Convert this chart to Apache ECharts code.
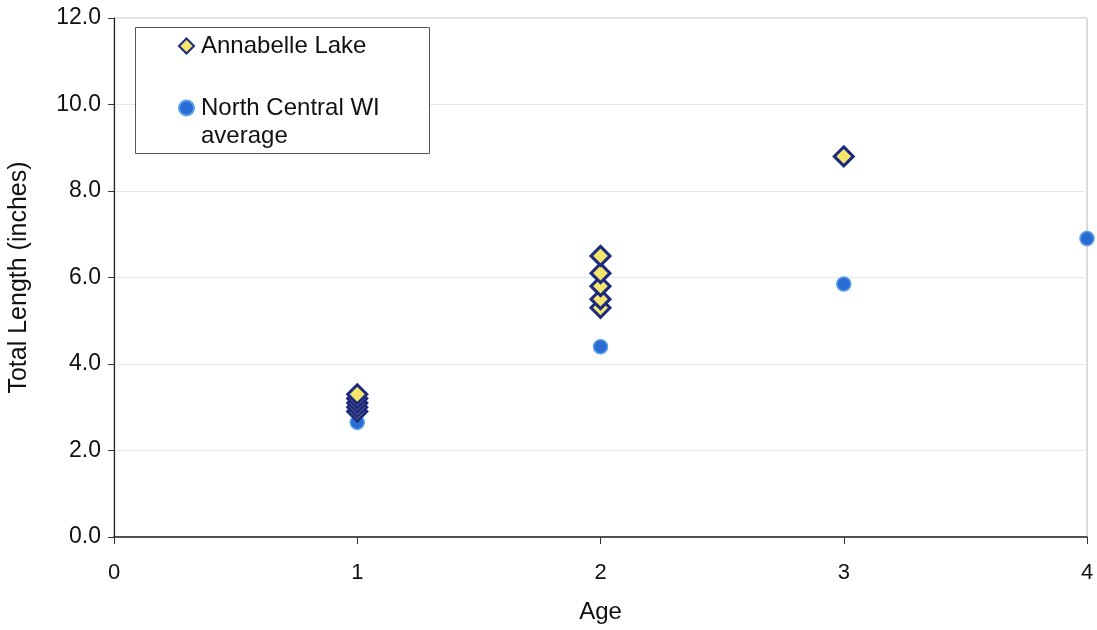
<!DOCTYPE html>
<html><head><meta charset="utf-8">
<script src="https://cdn.jsdelivr.net/npm/echarts@6/dist/echarts.min.js"></script>
<style>html,body{margin:0;padding:0;background:#fff}#c{width:1097px;height:630px}</style>
</head><body><div id="c"></div>
<script>
const annabelleAges = [1, 1, 1, 1, 1, 2, 2, 2, 2, 2, 3];
const annabelleLengths = [2.9, 3.0, 3.1, 3.2, 3.3, 5.3, 5.5, 5.8, 6.1, 6.5, 8.8];
const ncwiAges = [1, 2, 3, 4];
const ncwiLengths = [2.65, 4.4, 5.85, 6.9];
const seriesNames = ['Annabelle Lake', 'North Central WI average'];

const chart = echarts.init(document.getElementById('c'));
const font = 'Liberation Sans, Arial, sans-serif';
chart.setOption({
  animation: false,
  grid: {left: 114, right: 10, top: 18, bottom: 93, show: true, borderColor: '#b8b8b8', borderWidth: 1,
         containLabel: false, outerBoundsMode: 'none'},
  xAxis: {
    type: 'value', min: 0, max: 4, interval: 1,
    name: 'Age', nameLocation: 'middle', nameGap: 63,
    nameTextStyle: {fontFamily: font, fontSize: 24, color: '#111'},
    axisLine: {show: true, lineStyle: {color: '#222', width: 1.5}},
    axisTick: {show: true, length: 7, lineStyle: {color: '#333'}},
    axisLabel: {fontFamily: font, fontSize: 22, color: '#111', margin: 25},
    splitLine: {show: false}
  },
  yAxis: {
    type: 'value', min: 0, max: 12, interval: 2,
    name: 'Total Length (inches)', nameLocation: 'middle', nameGap: 82, nameRotate: 90,
    nameTextStyle: {fontFamily: font, fontSize: 25, color: '#111'},
    axisLine: {show: true, onZero: false, lineStyle: {color: '#222', width: 1.2}},
    axisTick: {show: true, length: 6, lineStyle: {color: '#333'}},
    axisLabel: {fontFamily: font, fontSize: 23, color: '#111', margin: 13, formatter: v => v.toFixed(1)},
    splitLine: {show: true, lineStyle: {color: '#e8e8e8', width: 1}}
  },
  graphic: [{
    type: 'rect', left: 135, top: 27, z: 10,
    shape: {width: 294, height: 126},
    style: {fill: '#fff', stroke: '#555', lineWidth: 1}
  }],
  legend: {
    orient: 'vertical', left: 173, top: 27, z: 20,
    itemWidth: 15, itemHeight: 15, itemGap: 6,
    textStyle: {fontFamily: font, fontSize: 24, color: '#111', lineHeight: 28, padding: [0, 0, 0, 2]},
    formatter: n => n === seriesNames[1] ? '\nNorth Central WI\naverage' : n,
    data: [
      {name: seriesNames[0], icon: 'diamond'},
      {name: seriesNames[1], icon: 'circle'}
    ]
  },
  series: [
    {
      name: seriesNames[0], type: 'scatter', symbol: 'diamond', symbolSize: 19, z: 3,
      itemStyle: {color: '#f4e66c', borderColor: '#1e2a80', borderWidth: 3, opacity: 1},
      data: annabelleAges.map((a, i) => [a, annabelleLengths[i]])
    },
    {
      name: seriesNames[1], type: 'scatter', symbol: 'circle', symbolSize: 14, z: 2,
      itemStyle: {color: '#2b6cd4', borderColor: '#5aa0e8', borderWidth: 1.5, opacity: 1},
      data: ncwiAges.map((a, i) => [a, ncwiLengths[i]])
    }
  ]
});
</script></body></html>
